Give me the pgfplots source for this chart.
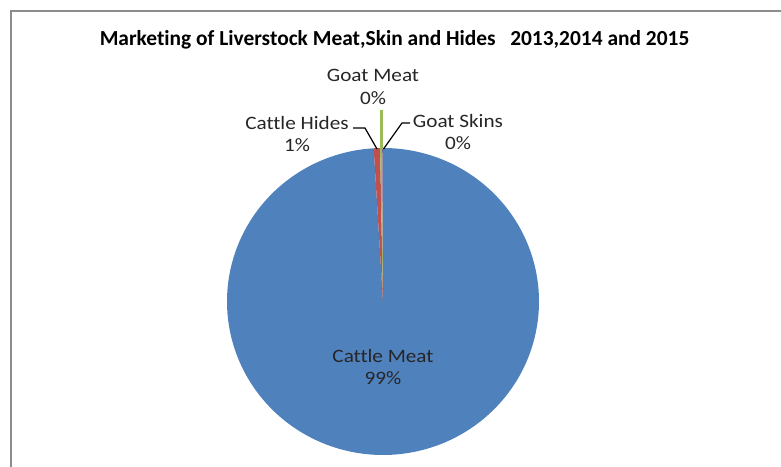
\documentclass[border=0pt]{standalone}
\usepackage{fontspec}
\setmainfont[Ligatures={NoCommon}]{Carlito}
\newfontfamily\labelfont[Ligatures={NoCommon},FakeStretch=1.12]{Carlito}
\usepackage{pgfplots}
\usepackage{pgfplotstable}
\pgfplotsset{compat=1.18}
\definecolor{pieblue}{HTML}{4F81BD}
\definecolor{piered}{HTML}{C0504D}
\definecolor{piegreen}{HTML}{9BBB59}
\definecolor{piepurple}{HTML}{8064A2}
\definecolor{framegray}{HTML}{8C8C8C}
\pgfplotstableread{
name share
CattleMeat 99.05
CattleHides 0.65
GoatMeat 0.22
GoatSkins 0.08
}\sharetable
\pgfplotstablegetelem{0}{share}\of\sharetable \let\sA\pgfplotsretval
\pgfplotstablegetelem{1}{share}\of\sharetable \let\sB\pgfplotsretval
\pgfplotstablegetelem{2}{share}\of\sharetable \let\sC\pgfplotsretval
\pgfplotstablegetelem{3}{share}\of\sharetable \let\sD\pgfplotsretval
\pgfmathsetmacro\aA{90-3.6*\sA}
\pgfmathsetmacro\aB{\aA-3.6*\sB}
\pgfmathsetmacro\aC{\aB-3.6*\sC}
\pgfmathsetmacro\aD{\aC-3.6*\sD}
\begin{document}
\begin{tikzpicture}
\useasboundingbox (0,0) rectangle (781bp,467bp);
\begin{axis}[
  at={(0,0)}, anchor=south west,
  scale only axis, width=781bp, height=467bp,
  xmin=0, xmax=781, ymin=0, ymax=467,
  hide axis, clip=false,
]
% frame
\draw[framegray, line width=1.8bp] (axis cs:11,-5) -- (axis cs:11,456) -- (axis cs:790,456);
% slices
\addplot[draw=none, fill=pieblue, domain=\aA:90, samples=360, variable=\t]
  ({383+156*cos(\t)},{165.5+153.5*sin(\t)}) -- (axis cs:383,165.5) -- cycle;
\addplot[draw=none, fill=piered, domain=\aB:\aA, samples=10, variable=\t]
  ({383+156*cos(\t)},{165.5+153.5*sin(\t)}) -- (axis cs:383,165.5) -- cycle;
\addplot[draw=none, fill=piegreen, domain=\aC:\aB, samples=10, variable=\t]
  ({383+156*cos(\t)},{165.5+153.5*sin(\t)}) -- (axis cs:383,165.5) -- cycle;
\addplot[draw=none, fill=piepurple, domain=\aD:\aC, samples=10, variable=\t]
  ({383+156*cos(\t)},{165.5+153.5*sin(\t)}) -- (axis cs:383,165.5) -- cycle;
% leader lines
\draw[piegreen, line width=2.5bp] (axis cs:381.5,357) -- (axis cs:381.5,318);
\draw[black, line width=1.2bp] (axis cs:353,339) -- (axis cs:365,339) -- (axis cs:377,318);
\draw[black, line width=1.2bp] (axis cs:410,344) -- (axis cs:402,344) -- (axis cs:383.5,318);
% labels
\node[font=\bfseries\fontsize{21.5}{24}\selectfont] at (axis cs:394.5,427) {Marketing of Liverstock Meat,Skin and Hides\ \ \ 2013,2014 and 2015};
\node[font=\labelfont\fontsize{19}{22}\selectfont, align=center, text=black!85] at (axis cs:373,380) {Goat Meat\\[1pt]0\%};
\node[font=\labelfont\fontsize{19}{22}\selectfont, align=center, text=black!85] at (axis cs:297,333) {Cattle Hides\\[1pt]1\%};
\node[font=\labelfont\fontsize{19}{22}\selectfont, align=center, text=black!85] at (axis cs:458,335) {Goat Skins\\[1pt]0\%};
\node[font=\labelfont\fontsize{19}{22}\selectfont, align=center, text=black!85] at (axis cs:383,100) {Cattle Meat\\[1pt]99\%};
\end{axis}
\end{tikzpicture}
\end{document}
